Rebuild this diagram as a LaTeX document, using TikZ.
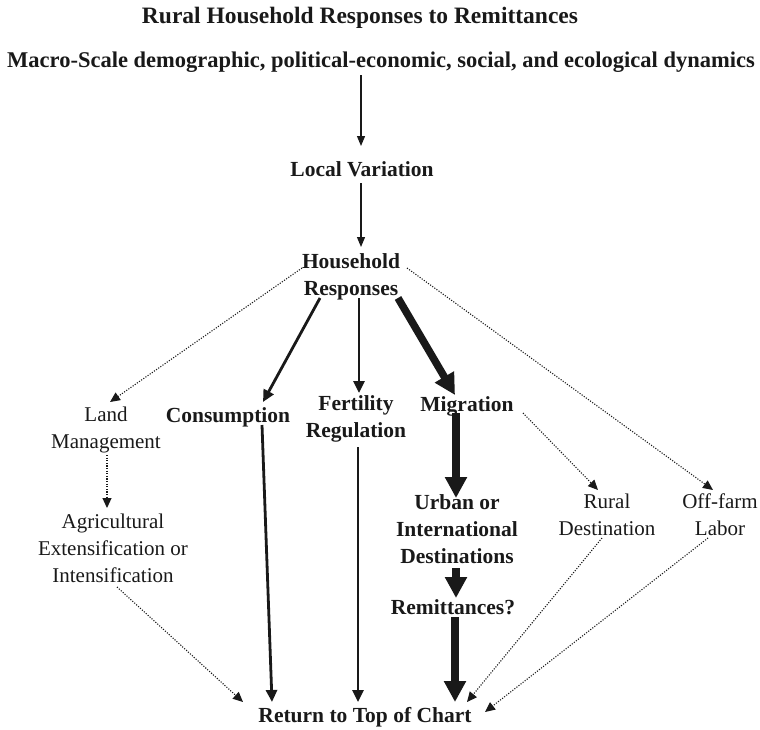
\documentclass[tikz,border=0pt]{standalone}
\usepackage{fontspec}
\setmainfont{Liberation Serif}
\usetikzlibrary{arrows.meta,calc}
\tikzset{
  lbl/.style={anchor=base,inner sep=0pt,align=center,font=\fontsize{21}{27}\selectfont},
  blbl/.style={anchor=base,inner sep=0pt,align=center,font=\fontsize{21.5}{27}\selectfont\bfseries},
  thinarr/.style={line width=1.2pt,-{Triangle[length=10pt,width=8pt]}},
  medarr/.style={line width=2.8pt,-{Triangle[length=12pt,width=11pt]}},
  thickarr/.style={line width=7.5pt,-{Triangle[length=21pt,width=21pt]}},
  dotarr/.style={line width=1.1pt,dash pattern=on 1.1pt off 1.5pt,-{Triangle[length=10pt,width=9pt]}},
}
\begin{document}
\begin{tikzpicture}[x=1pt,y=-1pt,color=black!90]
\useasboundingbox (0,0) rectangle (760,729);
\node[blbl,font=\fontsize{23.5}{27}\selectfont\bfseries] (title) at (360,23) {Rural Household Responses to Remittances};
\node[blbl,font=\fontsize{22.5}{27}\selectfont\bfseries] (macro) at (381,67) {Macro-Scale demographic, political-economic, social, and ecological dynamics};
\node[blbl] (local) at (362,176) {Local Variation};
\node[blbl] (hh) at (351,295) {Household\\Responses};
\node[lbl] (land) at (106,448) {Land\\Management};
\node[blbl] (cons) at (228,422) {Consumption};
\node[blbl] (fert) at (356,437) {Fertility\\Regulation};
\node[blbl] (migr) at (467,411) {Migration};
\node[lbl] (agri) at (113,582) {Agricultural\\Extensification or\\Intensification};
\node[blbl] (urban) at (457,563) {Urban or\\International\\Destinations};
\node[lbl] (rural) at (607,535) {Rural\\Destination};
\node[lbl] (off) at (720,535) {Off-farm\\Labor};
\node[blbl] (remit) at (453,614) {Remittances?};
\node[blbl] (ret) at (365,722) {Return to Top of Chart};

\draw[thinarr] ($(macro.base)+(-20,8)$) -- ($(local.base)+(-1,-30)$);
\draw[thinarr] ($(local.base)+(-1,7)$) -- ($(hh.base)+(10,-48)$);
\draw[dotarr] ($(hh.base)+(-49,-27)$) -- ($(land.base)+(4,-46)$);
\draw[medarr] ($(hh.base)+(-31,3)$) -- ($(cons.base)+(35,-20)$);
\draw[medarr] ($(hh.base)+(8,3)$) -- ($(fert.base)+(3,-44)$);
\draw[thickarr] ($(hh.base)+(47,3)$) -- ($(migr.base)+(-12,-16)$);
\draw[dotarr] ($(hh.base)+(56,-27)$) -- ($(off.base)+(-7,-45)$);
\draw[dotarr] ($(land.base)+(1,7)$) -- ($(agri.base)+(-6,-74)$);
\draw[medarr] ($(cons.base)+(34,3)$) -- ($(ret.base)+(-93,-20)$);
\draw[medarr] ($(fert.base)+(2,10)$) -- ($(ret.base)+(-7,-20)$);
\draw[thickarr] ($(migr.base)+(-11,2)$) -- ($(urban.base)+(-1,-65)$);
\draw[dotarr] ($(migr.base)+(56,2)$) -- ($(rural.base)+(-9,-45)$);
\draw[dotarr] ($(agri.base)+(4,5)$) -- ($(ret.base)+(-122,-20)$);
\draw[thickarr] ($(urban.base)+(-1,5)$) -- ($(remit.base)+(3,-16)$);
\draw[thickarr] ($(remit.base)+(2,3)$) -- ($(ret.base)+(90,-20)$);
\draw[dotarr] ($(rural.base)+(-5,3)$) -- ($(ret.base)+(102,-20)$);
\draw[dotarr] ($(off.base)+(-12,3)$) -- ($(ret.base)+(120,-10)$);
\end{tikzpicture}
\end{document}
